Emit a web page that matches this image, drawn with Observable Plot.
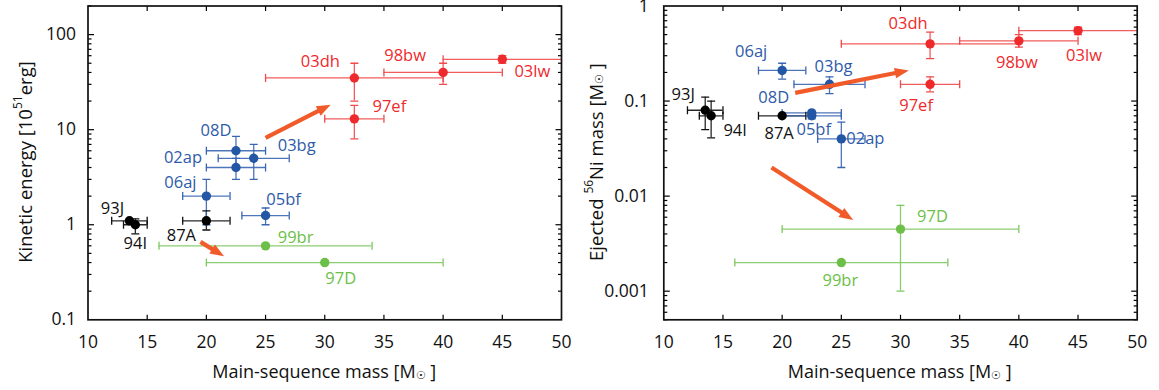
<!DOCTYPE html>
<html>
<head>
<meta charset="utf-8">
<script src="https://cdn.jsdelivr.net/npm/d3@7"></script>
<script src="https://cdn.jsdelivr.net/npm/@observablehq/plot@0.6"></script>
<style>
  html, body { margin: 0; padding: 0; background: #fff; }
  #wrap { display: flex; flex-direction: row; width: 1159px; height: 390px; }
  #wrap svg { display: block; }
</style>
</head>
<body>
<div id="wrap"></div>
<script>
// ---------------- data ----------------
const names  = ["87A","93J","94I","02ap","03bg","05bf","06aj","08D","97ef","98bw","03dh","03lw","99br","97D"];
const groups = ["black","black","black","blue","blue","blue","blue","blue","red","red","red","red","green","green"];

// Left panel: kinetic energy [1e51 erg] vs main-sequence mass
const massE    = [20, 13.5, 14, 22.5, 24, 25, 20, 22.5, 32.5, 40, 32.5, 45, 25, 30];
const massELo  = [18, 12, 13, 20, 21, 23, 18, 20, 30, 35, 25, 40, 16, 20];
const massEHi  = [22, 15, 15, 25, 27, 27, 22, 25, 35, 45, 40, 55, 34, 40];
const energy   = [1.1, 1.1, 1.0, 4, 5, 1.25, 2, 6, 13, 40, 35, 55, 0.6, 0.4];
const energyLo = [0.88, null, 0.8, 3, 3, 1.0, 1, 4, 8, 30, 20, 50, null, null];
const energyHi = [1.4, null, 1.15, 5, 7, 1.5, 3, 8.5, 18, 50, 50, 60, null, null];

// Right panel: ejected 56Ni mass [Msun] vs main-sequence mass
const massN    = [20, 13.5, 14, 25, 24, 22.5, 20, 22.5, 32.5, 40, 32.5, 45, 25, 30];
const massNLo  = [18, 12, 13, 23, 21, 20, 18, 20, 30, 35, 25, 40, 16, 20];
const massNHi  = [22, 15, 15, 27, 27, 25, 22, 25, 35, 45, 40, 55, 34, 40];
const nickel   = [0.07, 0.08, 0.07, 0.04, 0.15, 0.07, 0.21, 0.075, 0.15, 0.43, 0.4, 0.55, 0.002, 0.0045];
const nickelLo = [null, 0.05, 0.041, 0.02, 0.12, 0.065, 0.17, null, 0.125, 0.37, 0.28, 0.5, null, 0.001];
const nickelHi = [null, 0.11, 0.10, 0.06, 0.18, 0.075, 0.25, null, 0.18, 0.50, 0.53, 0.6, null, 0.008];

// label offsets from their point (px)
const labelDxE = [-25, -17, 0, -53, 43, 18, -26, -20, 35, -38, -34, 30, 30, 16];
const labelDyE = [15, -12, 19, -10, -13, -16, -13, -20, -12, -17, -16, 12, -8, 16];
const labelDxN = [-3, -22, 24, 24, 4, 2, -31, -38, -14, -2, -22, 6, -1, 32];
const labelDyN = [18, -16, 15, 0, -18, 14, -19, -15, 21, 22, -20, 25, 18, -12];

// trend arrows [x1, y1, x2, y2]
const arrowsE = [[25, 8.2, 30.5, 18.3], [19.5, 0.66, 21.5, 0.465]];
const arrowsN = [[21.1, 0.122, 30.7, 0.21], [19.1, 0.02, 26.0, 0.0056]];

const xTicks = [10, 15, 20, 25, 30, 35, 40, 45, 50];
const yTicksE = [0.1, 1, 10, 100];
const yTicksN = [0.001, 0.01, 0.1, 1];

// ---------------- styles ----------------
const pointColor = {black: "#000000", blue: "#2356a5", red: "#ee2a2c", green: "#6cbf48"};
const barColor   = {black: "#111111", blue: "#3a66b1", red: "#f04a4a", green: "#7ec861"};
const textColor  = {black: "#111111", blue: "#2e5ba9", red: "#ee2a2c", green: "#6cbf48"};
const arrowColor = "#f15a29";
const FONT = "'Open Sans', 'Noto Sans', sans-serif";
const HEAD_LEN = 14;

const sym = fn => ({draw(ctx, size) { const r = Math.sqrt(size / Math.PI); fn(ctx, r); }});
const vCap = sym((c, r) => { c.moveTo(0, -r); c.lineTo(0, r); });
const hCap = sym((c, r) => { c.moveTo(-r, 0); c.lineTo(r, 0); });
const tRight = sym((c, r) => { c.moveTo(0, 0); c.lineTo(r, 0); });
const tLeft  = sym((c, r) => { c.moveTo(0, 0); c.lineTo(-r, 0); });
const tUp    = sym((c, r) => { c.moveTo(0, 0); c.lineTo(0, -r); });
const tDown  = sym((c, r) => { c.moveTo(0, 0); c.lineTo(0, r); });
// filled arrow head, tip at origin, pointing up (rotated by the rotate channel)
const head = sym((c, r) => { c.moveTo(0, 0); c.lineTo(r * 0.38, r); c.lineTo(-r * 0.38, r); c.closePath(); });

function minorTicks(lo, hi) {
  const out = [];
  for (let e = Math.floor(Math.log10(lo)) - 1; e <= Math.ceil(Math.log10(hi)); e++) {
    for (let k = 2; k <= 9; k++) {
      const v = +(k * Math.pow(10, e)).toPrecision(6);
      if (v >= lo * 0.999 && v <= hi * 1.001) out.push(v);
    }
  }
  return out;
}

function panel(cfg, headAngles) {
  const {m, mlo, mhi, v, vlo, vhi, ldx, ldy, arrows, yDomain, yTicks, width, marginLeft, marginRight, tickPad} = cfg;
  const rows = names.map((n, i) => ({
    name: n, g: groups[i], m: m[i], mlo: mlo[i], mhi: mhi[i], v: v[i], vlo: vlo[i], vhi: vhi[i], dx: ldx[i], dy: ldy[i]
  }));
  const yerr = rows.filter(d => d.vlo != null);
  const xMin = 10, xMax = 50;
  const [yMin, yMax] = yDomain;
  const inner = xTicks.filter(t => t > xMin && t < xMax);
  const minors = minorTicks(yMin, yMax);
  const tickStroke = {stroke: "#000", strokeWidth: 1.2, fill: "none"};
  const arrowRows = arrows.map((a, i) => ({x1: a[0], y1: a[1], x2: a[2], y2: a[3], angle: headAngles ? headAngles[i] : 0}));
  const marks = [
    // error bars
    Plot.ruleY(rows, {y: "v", x1: "mlo", x2: "mhi", stroke: d => barColor[d.g], strokeWidth: 1.3, strokeOpacity: 0.9, clip: true}),
    Plot.ruleX(yerr, {x: "m", y1: "vlo", y2: "vhi", stroke: d => barColor[d.g], strokeWidth: 1.3, strokeOpacity: 0.9, clip: true}),
    Plot.dot(rows, {x: "mlo", y: "v", symbol: vCap, r: 4, stroke: d => barColor[d.g], strokeWidth: 1.3, fill: "none", clip: true}),
    Plot.dot(rows, {x: "mhi", y: "v", symbol: vCap, r: 4, stroke: d => barColor[d.g], strokeWidth: 1.3, fill: "none", clip: true}),
    Plot.dot(yerr, {x: "m", y: "vlo", symbol: hCap, r: 4, stroke: d => barColor[d.g], strokeWidth: 1.3, fill: "none", clip: true}),
    Plot.dot(yerr, {x: "m", y: "vhi", symbol: hCap, r: 4, stroke: d => barColor[d.g], strokeWidth: 1.3, fill: "none", clip: true}),
    // points
    Plot.dot(rows, {x: "m", y: "v", r: 4.7, fill: d => pointColor[d.g], stroke: "none"}),
    // labels
    ...rows.map(d => Plot.text([d], {x: "m", y: "v", text: "name", dx: d.dx, dy: d.dy, fill: textColor[d.g], fontSize: 16.5, textAnchor: "middle"})),
    // arrows: shaft + filled head
    Plot.arrow(arrowRows, {x1: "x1", y1: "y1", x2: "x2", y2: "y2", stroke: arrowColor, strokeWidth: 4.2, headLength: 0, insetEnd: HEAD_LEN - 3, strokeLinecap: "butt"}),
    Plot.dot(arrowRows, {x: "x2", y: "y2", symbol: head, r: HEAD_LEN, rotate: "angle", fill: arrowColor, stroke: "none"}),
    // inward ticks
    Plot.dot(inner, {x: d => d, y: () => yMin, symbol: tUp, r: 5, ...tickStroke}),
    Plot.dot(inner, {x: d => d, y: () => yMax, symbol: tDown, r: 5, ...tickStroke}),
    Plot.dot(yTicks.filter(t => t > yMin && t < yMax), {x: () => xMin, y: d => d, symbol: tRight, r: 6, ...tickStroke}),
    Plot.dot(yTicks.filter(t => t > yMin && t < yMax), {x: () => xMax, y: d => d, symbol: tLeft, r: 6, ...tickStroke}),
    Plot.dot(minors, {x: () => xMin, y: d => d, symbol: tRight, r: 3.5, ...tickStroke}),
    Plot.dot(minors, {x: () => xMax, y: d => d, symbol: tLeft, r: 3.5, ...tickStroke}),
    Plot.frame({stroke: "#111", strokeWidth: 1.7}),
    Plot.axisX({ticks: xTicks, tickSize: 0, tickPadding: 16, label: null, fontSize: 17.5}),
    Plot.axisY({ticks: yTicks, tickSize: 0, tickPadding: tickPad, label: null, fontSize: 17.5, tickFormat: d => String(d)})
  ];
  return Plot.plot({
    width, height: 390,
    marginTop: 5.5, marginBottom: 70.7, marginLeft, marginRight,
    x: {domain: [xMin, xMax]},
    y: {type: "log", domain: yDomain},
    color: {type: "identity"},
    style: {fontFamily: FONT, fontSize: "17px", color: "#111", background: "#fff", overflow: "visible"},
    marks
  });
}

// two passes: first to read the scales, then orient the arrow heads in screen space
function build(cfg) {
  const probe = panel(cfg, null);
  const sx = probe.scale("x"), sy = probe.scale("y");
  const angles = cfg.arrows.map(a => {
    const dx = sx.apply(a[2]) - sx.apply(a[0]);
    const dy = sy.apply(a[3]) - sy.apply(a[1]);
    return Math.atan2(dx, -dy) * 180 / Math.PI;
  });
  return panel(cfg, angles);
}

const left = build({
  m: massE, mlo: massELo, mhi: massEHi, v: energy, vlo: energyLo, vhi: energyHi,
  ldx: labelDxE, ldy: labelDyE, arrows: arrowsE,
  yDomain: [0.1, 200], yTicks: yTicksE, width: 580, marginLeft: 87.5, marginRight: 19, tickPad: 12
});
const right = build({
  m: massN, mlo: massNLo, mhi: massNHi, v: nickel, vlo: nickelLo, vhi: nickelHi,
  ldx: labelDxN, ldy: labelDyN, arrows: arrowsN,
  yDomain: [0.0005, 1], yTicks: yTicksN, width: 579, marginLeft: 83.3, marginRight: 22.3, tickPad: 15
});

// axis titles with superscripts / solar symbol
function addTitles(svg, xCenter, yLabelX, yParts) {
  const s = d3.select(svg);
  const xl = s.append("text")
    .attr("x", xCenter).attr("y", 370.5)
    .attr("text-anchor", "middle").attr("dominant-baseline", "central")
    .attr("font-family", FONT).attr("font-size", 18).attr("fill", "#111");
  xl.append("tspan").text("Main-sequence mass [M");
  xl.append("tspan").attr("font-size", 11).attr("dy", 3).text("☉");
  xl.append("tspan").attr("dy", -3).text(" ]");

  const yl = s.append("text")
    .attr("transform", `translate(${yLabelX},162) rotate(-90)`)
    .attr("text-anchor", "middle").attr("dominant-baseline", "central")
    .attr("font-family", FONT).attr("font-size", 18.5).attr("fill", "#111");
  for (const p of yParts) {
    const t = yl.append("tspan").text(p.text);
    if (p.size) t.attr("font-size", p.size);
    if (p.dy) t.attr("dy", p.dy);
  }
}
addTitles(left, 324.25, 24, [
  {text: "Kinetic energy [10"}, {text: "51", size: 12, dy: -7}, {text: "erg]", dy: 7}
]);
addTitles(right, 319.7, 15, [
  {text: "Ejected "}, {text: "56", size: 12, dy: -7}, {text: "Ni mass [M", dy: 7},
  {text: "☉", size: 11, dy: 3}, {text: " ]", dy: -3}
]);

document.getElementById("wrap").append(left, right);
</script>
</body>
</html>
